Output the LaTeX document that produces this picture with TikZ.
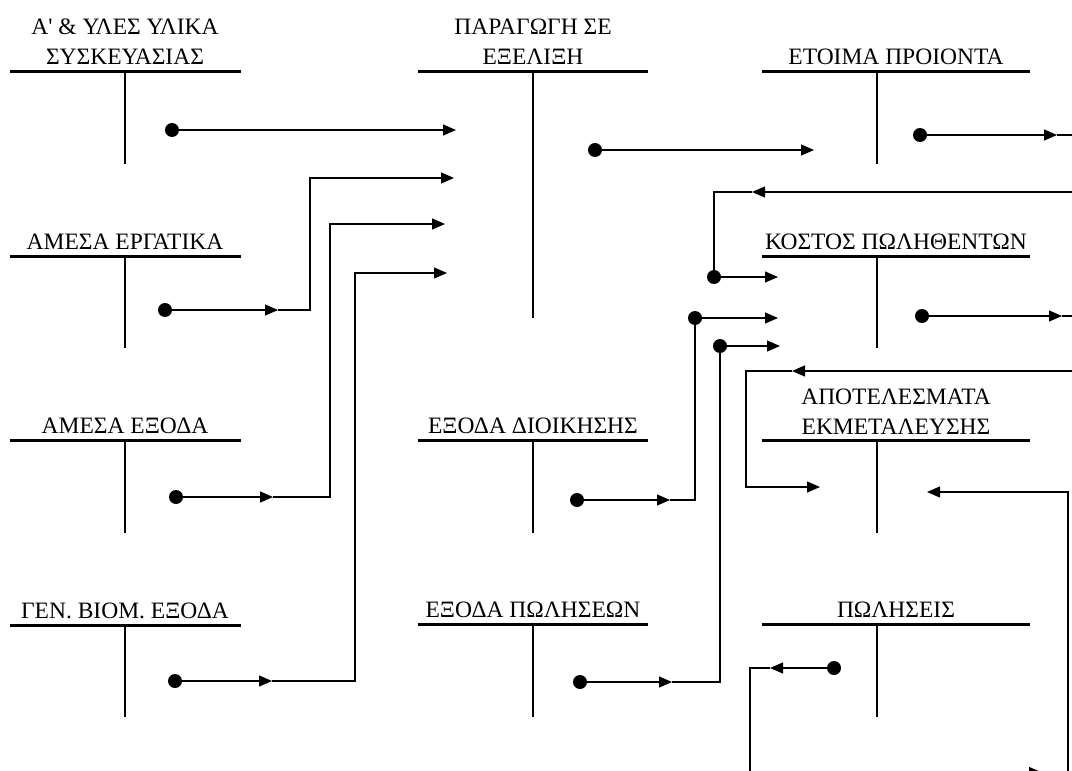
\documentclass[tikz,border=0pt]{standalone}
\usepackage{fontspec}
\setmainfont{Liberation Serif}[Ligatures=TeXOff]
\usetikzlibrary{arrows.meta}
\begin{document}
\begin{tikzpicture}[x=1pt,y=-1pt,
  bar/.style={line width=3pt},
  stem/.style={line width=1.6pt},
  title/.style={anchor=base, align=center, inner sep=0pt, font=\fontsize{23.5}{30}\selectfont},
  conn/.style={line width=1.2pt},
  arr/.style={conn, -{Triangle[length=13pt,width=11pt]}},
  dot/.style={circle, fill=black, inner sep=0pt, minimum size=14pt},
]
\fill[white] (0,0) rectangle (1072,771);
\useasboundingbox (0,0) rectangle (1072,771);
\clip (0,0) rectangle (1072,771);

% ---------- T-accounts ----------
% column 1
\draw[bar] (10,71) -- (241,71);   \draw[stem] (125,71) -- (125,164);
\node[title] (a1) at (125,64) {Α' \& ΥΛΕΣ ΥΛΙΚΑ\\ΣΥΣΚΕΥΑΣΙΑΣ};
\draw[bar] (10,256) -- (241,256); \draw[stem] (125,256) -- (125,348);
\node[title] (a2) at (125,249) {ΑΜΕΣΑ ΕΡΓΑΤΙΚΑ};
\draw[bar] (10,440) -- (241,440); \draw[stem] (125,440) -- (125,533);
\node[title] (a3) at (125,433) {ΑΜΕΣΑ ΕΞΟΔΑ};
\draw[bar] (10,625) -- (241,625); \draw[stem] (125,625) -- (125,717);
\node[title] (a4) at (125,618) {ΓΕΝ. ΒΙΟΜ. ΕΞΟΔΑ};
% column 2
\draw[bar] (418,71) -- (648,71);  \draw[stem] (533,71) -- (533,318);
\node[title] (b1) at (533,64) {ΠΑΡΑΓΩΓΗ ΣΕ\\ΕΞΕΛΙΞΗ};
\draw[bar] (418,440) -- (648,440); \draw[stem] (533,440) -- (533,533);
\node[title] (b2) at (533,433) {ΕΞΟΔΑ ΔΙΟΙΚΗΣΗΣ};
\draw[bar] (418,624) -- (648,624); \draw[stem] (533,624) -- (533,717);
\node[title] (b3) at (533,617) {ΕΞΟΔΑ ΠΩΛΗΣΕΩΝ};
% column 3
\draw[bar] (762,71) -- (1030,71);  \draw[stem] (877,71) -- (877,164);
\node[title] (c1) at (896,64) {ΕΤΟΙΜΑ ΠΡΟΙΟΝΤΑ};
\draw[bar] (762,256) -- (1030,256); \draw[stem] (877,256) -- (877,348);
\node[title] (c2) at (896,249) {ΚΟΣΤΟΣ ΠΩΛΗΘΕΝΤΩΝ};
\draw[bar] (762,440) -- (1030,440); \draw[stem] (877,440) -- (877,533);
\node[title] (c3) at (896,434) {ΑΠΟΤΕΛΕΣΜΑΤΑ\\ΕΚΜΕΤΑΛΕΥΣΗΣ};
\draw[bar] (762,624) -- (1030,624); \draw[stem] (877,624) -- (877,717);
\node[title] (c4) at (896,617) {ΠΩΛΗΣΕΙΣ};

% ---------- dots ----------
\node[dot] (d1) at (172,130) {};
\node[dot] (d2) at (165,310) {};
\node[dot] (d3) at (176,497) {};
\node[dot] (d4) at (175,681) {};
\node[dot] (d5) at (595,150) {};
\node[dot] (d6) at (920,135) {};
\node[dot] (d7) at (714,277) {};
\node[dot] (d8) at (577,500) {};
\node[dot] (d9) at (695,318) {};
\node[dot] (d10) at (580,682) {};
\node[dot] (d11) at (720,346) {};
\node[dot] (d13) at (922,316) {};
\node[dot] (d14) at (834,668) {};

% ---------- coordinates ----------
\coordinate (t1) at (456,130);
\coordinate (m2) at (278,310); \coordinate (c2p) at (310,310); \coordinate (t2) at (454,178);
\coordinate (m3) at (273,497); \coordinate (c3p) at (330,497); \coordinate (t3) at (445,224);
\coordinate (m4) at (272,681); \coordinate (c4p) at (355,681); \coordinate (t4) at (447,273);
\coordinate (t5) at (814,150);
\coordinate (m6) at (1057,135); \coordinate (e6) at (1085,135);
\coordinate (e7) at (1085,192); \coordinate (m7) at (752,192); \coordinate (t7) at (778,277);
\coordinate (m8) at (670,500); \coordinate (t9) at (778,318);
\coordinate (m10) at (672,682); \coordinate (t11) at (780,346);
\coordinate (e12) at (1085,371); \coordinate (m12) at (792,371); \coordinate (c12) at (746,371); \coordinate (t12) at (820,487);
\coordinate (m13) at (1062,316); \coordinate (e13) at (1085,316);
\coordinate (m14) at (770,668); \coordinate (c14) at (750,668); \coordinate (m14b) at (1042,772.5);
\coordinate (c15) at (1068,772.5); \coordinate (t15) at (927,492);

% ---------- connectors ----------
\draw[arr] (d1) -- (t1);
\draw[arr] (d2) -- (m2);  \draw[arr] (m2) -- (c2p) |- (t2);
\draw[arr] (d3) -- (m3);  \draw[arr] (m3) -- (c3p) |- (t3);
\draw[arr] (d4) -- (m4);  \draw[arr] (m4) -- (c4p) |- (t4);
\draw[arr] (d5) -- (t5);
\draw[arr] (d6) -- (m6);  \draw[conn] (m6) -- (e6);
\draw[arr] (e7) -- (m7);  \draw[conn] (m7) -| (d7);  \draw[arr] (d7) -- (t7);
\draw[arr] (d8) -- (m8);  \draw[conn] (m8) -| (d9);  \draw[arr] (d9) -- (t9);
\draw[arr] (d10) -- (m10); \draw[conn] (m10) -| (d11); \draw[arr] (d11) -- (t11);
\draw[arr] (e12) -- (m12); \draw[arr] (m12) -- (c12) |- (t12);
\draw[arr] (d13) -- (m13); \draw[conn] (m13) -- (e13);
\draw[arr] (d14) -- (m14); \draw[arr] (m14) -- (c14) |- (m14b);
\draw[arr] (m14b) -- (c15) |- (t15);
\end{tikzpicture}
\end{document}
